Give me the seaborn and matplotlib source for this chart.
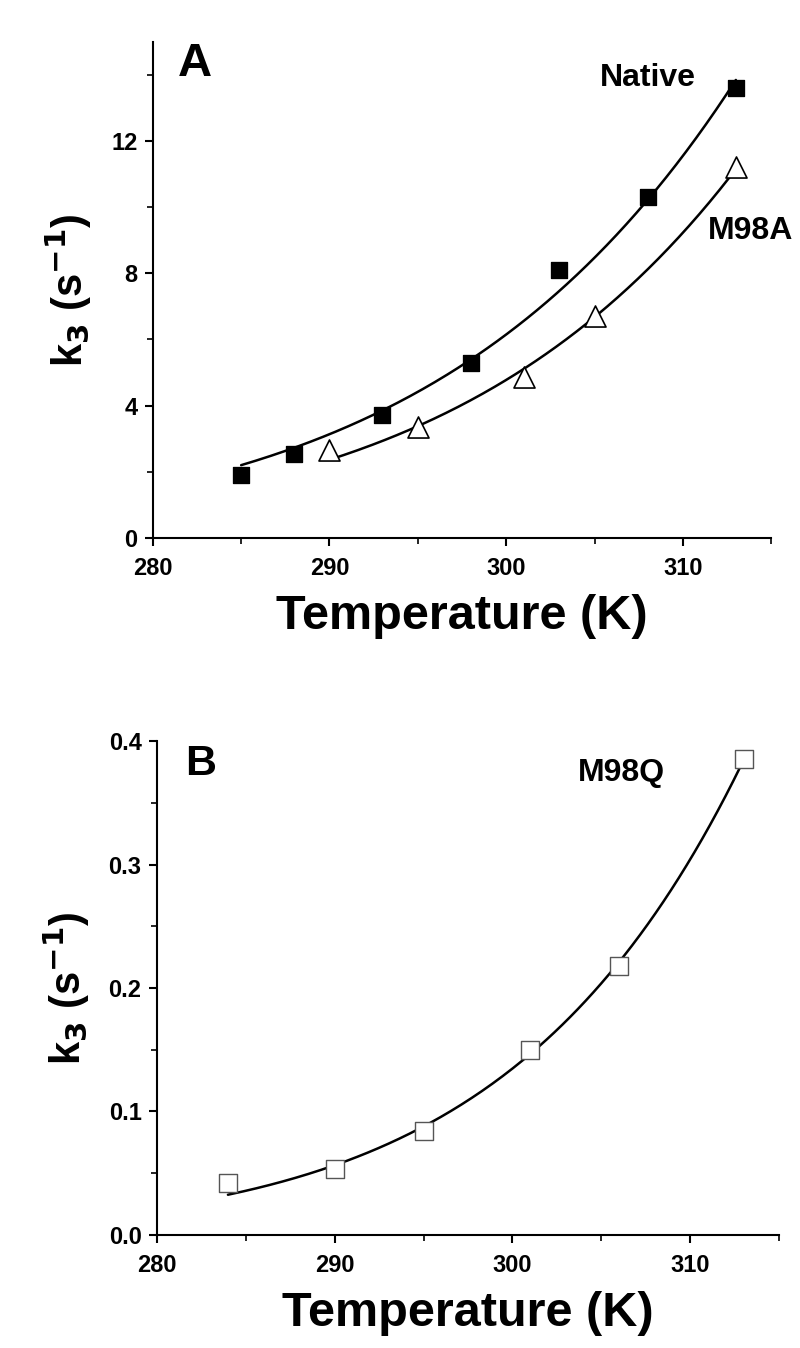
import numpy as np
import pandas as pd
import matplotlib
matplotlib.use("Agg")
import matplotlib.pyplot as plt
import seaborn as sns
from matplotlib.ticker import MultipleLocator, FormatStrFormatter

# Panel A: k3 vs temperature
native_T = [285, 288, 293, 298, 303, 308, 313]
native_k3 = [1.9, 2.55, 3.7, 5.3, 8.1, 10.3, 13.6]
m98a_T = [290, 295, 301, 305, 313]
m98a_k3 = [2.65, 3.35, 4.85, 6.7, 11.2]

# Panel B
m98q_T = [284, 290, 295, 301, 306, 313]
m98q_k3 = [0.042, 0.053, 0.084, 0.150, 0.218, 0.386]


def arrhenius_fit(T, k, n=200):
    # k = A*exp(b/T), least squares on k itself (not log)
    T = np.asarray(T, float)
    k = np.asarray(k, float)
    b0 = np.polyfit(1.0 / T, np.log(k), 1)[0]
    best = None
    for b in np.linspace(b0 * 1.6, b0 * 0.4, 4000):
        e = np.exp(b / T)
        A = (k * e).sum() / (e * e).sum()
        err = ((k - A * e) ** 2).sum()
        if best is None or err < best[0]:
            best = (err, A, b)
    _, A, b = best
    tt = np.linspace(T.min(), T.max(), n)
    return pd.DataFrame({"T": tt, "k": A * np.exp(b / tt)})


sns.set_theme(style="ticks")
narrow = ["Liberation Sans Narrow", "Liberation Sans", "DejaVu Sans"]
wide = ["Liberation Sans", "DejaVu Sans"]
plt.rcParams["font.family"] = narrow
plt.rcParams["font.weight"] = "bold"
plt.rcParams["axes.linewidth"] = 1.5
for key in ["text.color", "axes.labelcolor", "xtick.color", "ytick.color",
            "axes.edgecolor"]:
    plt.rcParams[key] = "black"

fig = plt.figure(figsize=(8, 13.48), dpi=100)
axA = fig.add_axes([0.191, 0.601, 0.773, 0.368])
axB = fig.add_axes([0.196, 0.084, 0.778, 0.366])


def style_axes(ax, ylim, ymaj, ymin):
    ax.set_xlim(280, 315)
    ax.set_ylim(*ylim)
    ax.xaxis.set_major_locator(MultipleLocator(10))
    ax.xaxis.set_minor_locator(MultipleLocator(5))
    ax.yaxis.set_major_locator(MultipleLocator(ymaj))
    ax.yaxis.set_minor_locator(MultipleLocator(ymin))
    sns.despine(ax=ax)
    ax.tick_params(which="major", length=6, width=1.5, direction="out",
                   labelsize=17, pad=5)
    ax.tick_params(axis="x", which="major", pad=8)
    ax.tick_params(which="minor", length=4, width=1.2, direction="out")
    for lab in ax.get_xticklabels() + ax.get_yticklabels():
        lab.set_fontweight("bold")
    ax.set_xlabel("Temperature (K)", fontsize=35, fontweight="bold",
                  labelpad=10, family=narrow)
    ax.set_ylabel(r"k$_\mathbf{3}$ (s$^\mathbf{-1}$)", fontsize=30,
                  fontweight="bold", family=wide, labelpad=12)


# Panel A
fitA_nat = arrhenius_fit(native_T, native_k3)
fitA_m98a = arrhenius_fit(m98a_T, m98a_k3)
sns.lineplot(data=fitA_nat, x="T", y="k", ax=axA, color="black", lw=1.8)
sns.lineplot(data=fitA_m98a, x="T", y="k", ax=axA, color="black", lw=1.8)
sns.scatterplot(x=native_T, y=native_k3, ax=axA, marker="s", s=140,
                color="black", edgecolor="black", zorder=3)
sns.scatterplot(x=m98a_T, y=m98a_k3, ax=axA, marker="^", s=230,
                facecolor="white", edgecolor="black", linewidth=1.2, zorder=3)
style_axes(axA, (0, 15), 4, 2)
axA.text(0.04, 1.0, "A", transform=axA.transAxes, fontsize=34,
         fontweight="bold", va="top", ha="left", family=wide)
axA.text(0.80, 0.927, "Native", transform=axA.transAxes, fontsize=23,
         fontweight="bold", ha="center", va="center")
axA.text(0.966, 0.619, "M98A", transform=axA.transAxes, fontsize=23,
         fontweight="bold", ha="center", va="center")

# Panel B
fitB = arrhenius_fit(m98q_T, m98q_k3)
sns.lineplot(data=fitB, x="T", y="k", ax=axB, color="black", lw=1.8)
sns.scatterplot(x=m98q_T, y=m98q_k3, ax=axB, marker="s", s=150,
                facecolor="white", edgecolor="#555555", linewidth=1.0, zorder=3)
style_axes(axB, (0, 0.4), 0.1, 0.05)
axB.yaxis.set_major_formatter(FormatStrFormatter("%.1f"))
axB.text(0.045, 0.995, "B", transform=axB.transAxes, fontsize=31,
         fontweight="bold", va="top", ha="left", family=wide)
axB.text(0.746, 0.935, "M98Q", transform=axB.transAxes, fontsize=23,
         fontweight="bold", ha="center", va="center")

fig.savefig("out.png", dpi=100)
